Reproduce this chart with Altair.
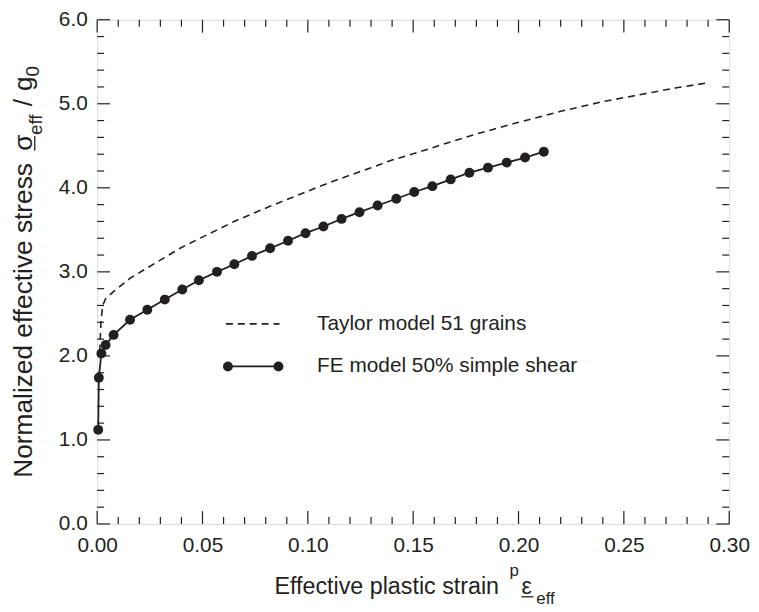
import altair as alt
import pandas as pd
import numpy as np

INK = "#231f20"
FONT = "Liberation Sans"

# ---- data ----
fe_strain = [0.0005, 0.0008, 0.0020, 0.0040, 0.0078, 0.0156, 0.0238, 0.0321, 0.0404,
             0.0483, 0.0569, 0.0651, 0.0735, 0.0821, 0.0906, 0.0989, 0.1074, 0.1160,
             0.1245, 0.1331, 0.1420, 0.1505, 0.1591, 0.1678, 0.1767, 0.1855, 0.1944,
             0.2031, 0.2120]
fe_stress = [1.12, 1.74, 2.03, 2.13, 2.25, 2.43, 2.55, 2.67, 2.79,
             2.90, 3.00, 3.09, 3.19, 3.28, 3.37, 3.46, 3.54, 3.63,
             3.71, 3.79, 3.87, 3.95, 4.02, 4.10, 4.18, 4.24, 4.30,
             4.36, 4.43]

taylor_strain = [0.0012, 0.0018, 0.0026, 0.0040, 0.0080, 0.016, 0.024, 0.032, 0.040,
                 0.048, 0.057, 0.065, 0.0735, 0.082, 0.090, 0.100, 0.110, 0.120,
                 0.130, 0.140, 0.152, 0.1645, 0.180, 0.200, 0.220, 0.239, 0.260,
                 0.275, 0.290]
taylor_stress = [2.05, 2.40, 2.60, 2.68, 2.77, 2.93, 3.05, 3.17, 3.29,
                 3.39, 3.50, 3.60, 3.69, 3.78, 3.86, 3.96, 4.06, 4.15,
                 4.24, 4.33, 4.42, 4.52, 4.64, 4.78, 4.91, 5.02, 5.12,
                 5.19, 5.25]

x_major = [0.00, 0.05, 0.10, 0.15, 0.20, 0.25, 0.30]
y_major = [0.0, 1.0, 2.0, 3.0, 4.0, 5.0, 6.0]
x_minor = [round(v, 2) for v in np.arange(0.0, 0.3001, 0.01) if round(v * 100) % 5 != 0]
y_minor = [round(v, 1) for v in np.arange(0.0, 6.001, 0.2) if round(v * 5) % 5 != 0]

legend_labels = ["Taylor model 51 grains", "FE model 50% simple shear"]

W, H = 638, 509
MAJ, MIN = 13, 7
TF = 23.5   # x title font size
YF = 26.5   # y title font size
SF = 17     # sub/superscript size (x title)
YSF = 19    # sub size (y title)
LF = 21     # tick label size
GF = 21     # legend font size

xs = alt.Scale(domain=[0, 0.30], nice=False, zero=False)
ys = alt.Scale(domain=[0, 6], nice=False, zero=False)

df_fe = pd.DataFrame({"strain": fe_strain, "stress": fe_stress})
df_t = pd.DataFrame({"strain": taylor_strain, "stress": taylor_stress})

xaxis = alt.Axis(values=x_major, format=".2f", labelFontSize=LF, labelFont=FONT,
                 labelColor=INK, labelPadding=11, ticks=False, tickSize=0,
                 domain=False, grid=False, title=None, labelFlush=False)
yaxis = alt.Axis(values=y_major, format=".1f", labelFontSize=LF, labelFont=FONT,
                 labelColor=INK, labelPadding=10, ticks=False, tickSize=0,
                 domain=False, grid=False, title=None, labelFlush=False)

taylor = alt.Chart(df_t).mark_line(strokeDash=[7, 5], color=INK, strokeWidth=1.6).encode(
    x=alt.X("strain:Q", scale=xs, axis=xaxis),
    y=alt.Y("stress:Q", scale=ys, axis=yaxis),
)
fe_line = alt.Chart(df_fe).mark_line(color=INK, strokeWidth=1.8).encode(
    x=alt.X("strain:Q", scale=xs), y=alt.Y("stress:Q", scale=ys))
fe_pts = alt.Chart(df_fe).mark_circle(color=INK, opacity=1, size=100).encode(
    x=alt.X("strain:Q", scale=xs), y=alt.Y("stress:Q", scale=ys))

layers = [taylor, fe_line, fe_pts]


def xticks(vals, ln):
    d = pd.DataFrame({"v": vals})
    bot = alt.Chart(d).mark_rule(color=INK, strokeWidth=1.2).encode(
        x=alt.X("v:Q", scale=xs), y=alt.value(H), y2=alt.value(H - ln))
    top = alt.Chart(d).mark_rule(color=INK, strokeWidth=1.2).encode(
        x=alt.X("v:Q", scale=xs), y=alt.value(0), y2=alt.value(ln))
    return [bot, top]


def yticks(vals, ln):
    d = pd.DataFrame({"v": vals})
    lef = alt.Chart(d).mark_rule(color=INK, strokeWidth=1.2).encode(
        y=alt.Y("v:Q", scale=ys), x=alt.value(0), x2=alt.value(ln))
    rig = alt.Chart(d).mark_rule(color=INK, strokeWidth=1.2).encode(
        y=alt.Y("v:Q", scale=ys), x=alt.value(W), x2=alt.value(W - ln))
    return [lef, rig]


layers += xticks(x_major, MAJ) + xticks(x_minor, MIN) + yticks(y_major, MAJ) + yticks(y_minor, MIN)


def txt(s, x, y, size, angle=0, align="left", baseline="alphabetic"):
    return alt.Chart(pd.DataFrame({"t": [s]})).mark_text(
        align=align, baseline=baseline, fontSize=size, angle=angle, font=FONT, color=INK
    ).encode(x=alt.value(x), y=alt.value(y), text="t:N")


def blank():
    return alt.Chart(pd.DataFrame({"a": [0]}))


# ---- legend ----
leg_x0, leg_x1, leg_tx = 132, 183, 222
leg_y1, leg_y2 = 307, 350
layers.append(blank().mark_rule(color=INK, strokeWidth=1.6, strokeDash=[7, 5]).encode(
    x=alt.value(leg_x0 - 2), x2=alt.value(leg_x1 + 1), y=alt.value(leg_y1)))
layers.append(txt(legend_labels[0], leg_tx, leg_y1, GF, baseline="middle"))
layers.append(blank().mark_rule(color=INK, strokeWidth=1.8).encode(
    x=alt.value(leg_x0), x2=alt.value(leg_x1), y=alt.value(leg_y2)))
for lx in (leg_x0, leg_x1):
    layers.append(blank().mark_circle(color=INK, opacity=1, size=100).encode(
        x=alt.value(lx), y=alt.value(leg_y2)))
layers.append(txt(legend_labels[1], leg_tx, leg_y2, GF, baseline="middle"))

# ---- x title: Effective plastic strain  ^p ε_eff ----
x0 = 179
xb = 580
main_w = 9.67 * TF
layers.append(txt("Effective plastic strain", x0, xb, TF))
px = x0 + main_w + 10
layers.append(txt("p", px, xb - 18, SF))
ex = px + 12
layers.append(txt("ε", ex, xb, TF))
layers.append(blank().mark_rule(color=INK, strokeWidth=1.3).encode(
    x=alt.value(ex), x2=alt.value(ex + 12), y=alt.value(xb + 2.5)))
layers.append(txt("eff", ex + 15, xb + 10, SF))

# ---- y title: Normalized effective stress  σ_eff / g_0 (rotated) ----
ymain = 12.003 * YF
w_gap, w_sig, w_eff, w_sp, w_sl, w_g, w_0 = 0.45 * YF, 0.6 * YF, 1.112 * YSF, 0.3 * YF, 0.278 * YF, 0.556 * YF, 0.556 * YSF
ytot = ymain + w_gap + w_sig + w_eff + w_sp + w_sl + w_sp + w_g + w_0
y0 = H / 2 + ytot / 2
bx = -66
layers.append(txt("Normalized effective stress", bx, y0, YF, angle=270))
sy = y0 - ymain - w_gap
layers.append(txt("σ", bx, sy, YF, angle=270))
layers.append(blank().mark_rule(color=INK, strokeWidth=1.3).encode(
    x=alt.value(bx + 3), y=alt.value(sy), y2=alt.value(sy - w_sig + 1)))
ey = sy - w_sig
layers.append(txt("eff", bx + 10, ey, YSF, angle=270))
sly = ey - w_eff - w_sp
layers.append(txt("/", bx, sly, YF, angle=270))
gy = sly - w_sl - w_sp
layers.append(txt("g", bx, gy, YF, angle=270))
layers.append(txt("0", bx + 7, gy - w_g, YSF, angle=270))

chart = alt.layer(*layers).properties(
    width=W, height=H,
    autosize=alt.AutoSizeParams(type="none"),
    padding={"left": 90, "top": 9, "right": 22, "bottom": 86},
).configure_view(stroke=INK, strokeWidth=1.6).configure(background="white")

chart.save("out.html", embed_options={"renderer": "svg", "actions": False})
